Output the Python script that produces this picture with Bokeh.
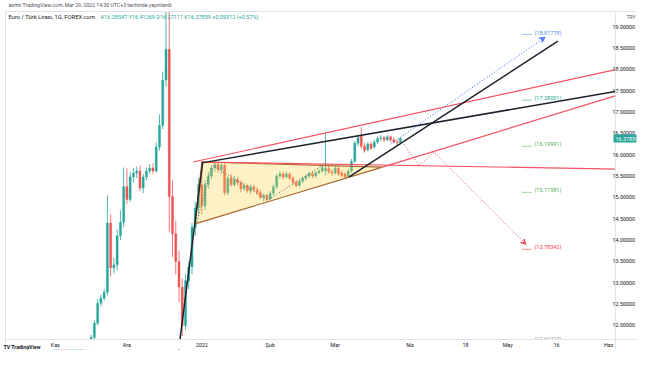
from bokeh.plotting import figure
from bokeh.models import ColumnDataSource, FixedTicker, PrintfTickFormatter, Label, Arrow, VeeHead
from bokeh.core.properties import value
from bokeh.embed import file_html
from bokeh.resources import INLINE

FONT = "Roboto"

# ---- daily EUR/TRY bars, index 0 = 1 Nov 2021 (trading days) ----
opens = [11.17, 11.21, 11.26, 11.22, 11.18, 11.22, 11.29, 11.35, 11.39, 11.48,
         11.46, 11.58, 11.72, 12.05, 12.52, 12.64, 12.78, 14.40, 13.35, 13.42,
         14.10, 14.42, 15.25, 14.95, 15.48, 15.57, 15.62, 15.22, 15.48, 15.62,
         15.69, 15.62, 16.18, 16.69, 17.75, 18.47, 15.02, 14.15, 13.50, 12.90,
         12.00, 13.05, 13.37, 14.30, 14.75, 15.30, 14.80, 15.30, 15.50, 15.69,
         15.78, 15.65, 15.75, 15.11, 15.45, 15.30, 15.42, 15.35, 15.20, 15.28,
         15.15, 15.25, 15.18, 15.12, 15.00, 15.05, 14.96, 15.10, 15.25, 15.50,
         15.55, 15.48, 15.55, 15.45, 15.35, 15.28, 15.38, 15.45, 15.50, 15.56,
         15.50, 15.58, 15.62, 15.62, 15.68, 15.60, 15.57, 15.69, 15.58, 15.55,
         15.48, 15.62, 15.85, 16.27, 16.45, 16.20, 16.12, 16.25, 16.18, 16.30,
         16.38, 16.40, 16.35, 16.42, 16.35, 16.30, 16.28547]
highs = [11.26, 11.30, 11.33, 11.30, 11.26, 11.33, 11.40, 11.46, 11.52, 11.60,
         11.63, 11.78, 12.12, 12.62, 12.72, 12.86, 15.05, 14.60, 13.58, 14.25,
         14.70, 15.70, 15.68, 15.60, 15.70, 15.72, 15.75, 15.55, 15.70, 15.78,
         15.80, 16.28, 16.95, 17.95, 19.60, 20.60, 15.40, 14.45, 13.75, 13.10,
         13.20, 13.50, 14.40, 14.90, 15.45, 15.85, 15.40, 15.60, 15.72, 15.85,
         15.84, 15.80, 15.80, 15.50, 15.55, 15.50, 15.48, 15.40, 15.35, 15.32,
         15.30, 15.30, 15.24, 15.18, 15.10, 15.08, 15.15, 15.30, 15.55, 15.62,
         15.60, 15.60, 15.58, 15.50, 15.40, 15.42, 15.48, 15.54, 15.60, 15.60,
         15.62, 15.66, 15.74, 16.50, 15.74, 15.66, 15.73, 15.72, 15.63, 15.60,
         15.66, 15.90, 16.32, 16.45, 16.64, 16.28, 16.30, 16.30, 16.35, 16.42,
         16.46, 16.44, 16.46, 16.45, 16.40, 16.36, 16.41269]
lows = [11.10, 11.15, 11.18, 11.12, 11.10, 11.16, 11.23, 11.28, 11.33, 11.41,
        11.41, 11.52, 11.68, 12.00, 12.45, 12.58, 12.70, 13.15, 13.22, 13.30,
        14.00, 14.30, 14.85, 14.90, 15.35, 15.45, 15.15, 15.10, 15.40, 15.55,
        15.55, 15.58, 16.10, 16.60, 17.60, 14.20, 13.60, 13.20, 12.55, 11.75,
        11.90, 12.85, 13.20, 14.10, 14.60, 14.60, 14.70, 15.20, 15.42, 15.60,
        15.58, 15.55, 15.05, 15.05, 15.25, 15.25, 15.28, 15.12, 15.15, 15.10,
        15.08, 15.12, 15.05, 14.95, 14.90, 14.88, 14.92, 15.05, 15.20, 15.45,
        15.42, 15.44, 15.40, 15.30, 15.24, 15.25, 15.33, 15.40, 15.45, 15.45,
        15.46, 15.54, 15.58, 15.52, 15.55, 15.50, 15.53, 15.50, 15.47, 15.45,
        15.46, 15.58, 15.80, 16.20, 16.15, 16.05, 16.08, 16.12, 16.15, 16.25,
        16.32, 16.30, 16.32, 16.30, 16.26, 16.22, 16.27111]
closes = [11.21, 11.26, 11.22, 11.18, 11.22, 11.29, 11.35, 11.39, 11.48, 11.46,
          11.58, 11.72, 12.05, 12.52, 12.64, 12.78, 14.40, 13.35, 13.42, 14.10,
          14.42, 15.25, 14.95, 15.48, 15.57, 15.62, 15.22, 15.48, 15.62, 15.69,
          15.62, 16.18, 16.69, 17.75, 18.47, 15.02, 14.15, 13.50, 12.90, 12.00,
          13.05, 13.37, 14.30, 14.75, 15.30, 14.80, 15.30, 15.50, 15.69, 15.78,
          15.65, 15.75, 15.11, 15.45, 15.30, 15.42, 15.35, 15.20, 15.28, 15.15,
          15.25, 15.18, 15.12, 15.00, 15.05, 14.96, 15.10, 15.25, 15.50, 15.55,
          15.48, 15.55, 15.45, 15.35, 15.28, 15.38, 15.45, 15.50, 15.56, 15.50,
          15.58, 15.62, 15.70, 15.68, 15.60, 15.57, 15.69, 15.55, 15.52, 15.48,
          15.62, 15.85, 16.27, 16.40, 16.20, 16.10, 16.25, 16.15, 16.30, 16.38,
          16.40, 16.35, 16.42, 16.35, 16.30, 16.28547, 16.37859]

# ---- axis ticks ----
price_ticks = [12.0, 12.5, 13.0, 13.5, 14.0, 14.5, 15.0, 15.5, 16.0, 16.5,
               17.0, 17.5, 18.0, 18.5, 19.0]
date_tick_pos = [0, 22, 45, 66, 86, 109, 126, 139, 154, 170]
date_tick_labels = ["Kas", "Ara", "2022", "Şub", "Mar", "Nis", "18", "May", "16", "Haz"]

# ---- drawings (bar index, price) ----
steep_black = ([37.5, 45.3], [11.20, 15.83])
upper_black = ([45.0, 172.5], [15.81, 17.49])
lower_black = ([90.3, 154.4], [15.48, 18.66])
red_top = ([42.3, 172.5], [15.83, 18.00])
red_mid = ([100.5, 172.5], [15.71, 17.39])
red_flat = ([45.0, 172.5], [15.83, 15.665])
triangle = ([42.9, 45.0, 100.5], [14.38, 15.83, 15.71])
gray_path = ([43.5, 48.1, 65.2, 83.3], [14.43, 15.76, 14.94, 15.81])
blue_path = ([103.0, 150.4], [16.25, 18.75])
red_path = ([106.6, 111.8, 116.4, 144.6], [16.30, 15.74, 16.06, 13.90])

level_values = [18.81778, 17.28001, 16.19991, 15.11981, 13.78342, 11.62727]
level_colors = ["#5b8ff0", "#22ab94", "#4caf50", "#4caf50", "#f23645", "#9598a1"]
level_x0, level_x1, level_tx = 143.3, 146.4, 147.2

# pane limits (price pane edges and the price-scale separator)
pane_left, pane_right = -15.31, 172.13
pane_top, pane_bottom = 19.357, 11.671

GREEN, RED = "#26a69a", "#ef5350"
BORDER = "#e0e3eb"
n = len(opens)
src = ColumnDataSource(dict(
    x=list(range(n)),
    top=[max(o, c) for o, c in zip(opens, closes)],
    bottom=[min(o, c) for o, c in zip(opens, closes)],
    high=highs, low=lows,
    color=[GREEN if c >= o else RED for o, c in zip(opens, closes)],
))

# whole canvas is the frame: 3.265 px per bar, 42.8 px per lira
X0, X1 = -16.845, 178.56
Y0, Y1 = 11.4369, 19.6145
p = figure(width=638, height=350, x_range=(X0, X1), y_range=(Y0, Y1),
           output_backend="svg", toolbar_location=None, title=None,
           y_axis_location="right", min_border=0,
           min_border_left=0, min_border_right=0, min_border_top=0, min_border_bottom=0,
           background_fill_color="white", border_fill_color="white")
p.outline_line_color = None
p.xgrid.visible = False
p.ygrid.visible = False

ya = p.yaxis[0]
ya.ticker = FixedTicker(ticks=price_ticks)
ya.formatter = PrintfTickFormatter(format="%.5f")
xa = p.xaxis[0]
xa.ticker = FixedTicker(ticks=date_tick_pos)
xa.major_label_overrides = {pos: lab for pos, lab in zip(date_tick_pos, date_tick_labels)}
for ax in (xa, ya):
    ax.major_label_text_font_size = "5.4px"
    ax.major_label_text_font = FONT
    ax.major_label_text_color = "#131722"
    ax.major_tick_line_color = None
    ax.minor_tick_line_color = None
    ax.major_tick_out = 0
    ax.major_tick_in = 0
    ax.minor_tick_out = 0
    ax.minor_tick_in = 0
    ax.axis_line_color = None
ya.major_label_standoff = -24
xa.major_label_standoff = -8

# candles
p.segment(x0="x", y0="low", x1="x", y1="high", line_color="color", line_width=0.8, source=src)
p.vbar(x="x", width=0.62, top="top", bottom="bottom", fill_color="color",
       line_color="color", line_width=0.4, source=src)

# triangle pattern
p.patch(triangle[0], triangle[1], fill_color="#f9d54a", fill_alpha=0.32,
        line_color="#a8652c", line_width=1.1)
p.line(gray_path[0], gray_path[1], line_color="#50535e", line_width=0.9, line_dash="1 2")

# trend lines
for xs, ys in (red_top, red_mid, red_flat):
    p.line(xs, ys, line_color="#f7525f", line_width=1.2)
for xs, ys in (steep_black, upper_black, lower_black):
    p.line(xs, ys, line_color="#1e222d", line_width=1.5)

# projection paths
p.line(blue_path[0], blue_path[1], line_color="#2962ff", line_width=1, line_dash="1 2")
p.add_layout(Arrow(end=VeeHead(size=5, line_color="#2962ff", line_width=1, fill_color=None),
                   x_start=blue_path[0][0], y_start=blue_path[1][0],
                   x_end=blue_path[0][1], y_end=blue_path[1][1], line_alpha=0))
p.line(red_path[0], red_path[1], line_color="#f23645", line_width=1, line_dash="1 2")
p.add_layout(Arrow(end=VeeHead(size=5, line_color="#f23645", line_width=1, fill_color=None),
                   x_start=red_path[0][2], y_start=red_path[1][2],
                   x_end=red_path[0][3], y_end=red_path[1][3], line_alpha=0))

# level labels
lvl_src = ColumnDataSource(dict(
    x0=[level_x0] * len(level_values), x1=[level_x1] * len(level_values),
    tx=[level_tx] * len(level_values), y=level_values,
    color=level_colors, text=["(%.5f)" % v for v in level_values]))
p.segment(x0="x0", y0="y", x1="x1", y1="y", line_color="color", line_alpha=0.7,
          line_width=0.8, source=lvl_src)
p.text(x="tx", y="y", text="text", text_color="color", text_font=value(FONT),
       text_font_size="5.5px", text_baseline="bottom", y_offset=1, source=lvl_src)

# mask everything outside the price pane (header strip, price scale, time scale)
p.quad(left=[X0, pane_right, X0], right=[X1, X1, X1],
       bottom=[pane_top, Y0, Y0], top=[Y1, Y1, pane_bottom],
       fill_color="white", line_color=None)
# pane borders
p.segment(x0=[pane_left, pane_left, pane_right, pane_left],
          y0=[pane_top, pane_bottom, pane_top, pane_top],
          x1=[X1, X1, pane_right, pane_left],
          y1=[pane_top, pane_bottom, Y0, Y0],
          line_color=BORDER, line_width=1)

# header / legend / footer (screen units: x from left, y from bottom of canvas)
def lab(x, y, text, color, size="5.5px", **kw):
    p.add_layout(Label(x=x, y=y, x_units="screen", y_units="screen", text=text,
                       text_color=color, text_font=FONT, text_font_size=size,
                       text_baseline="middle", **kw))

lab(8, 345, "asmn TradingView.com, Mar 29, 2022 14:30 UTC+3 tarihinde yayınlandı", "#50535e", "5.2px")
lab(8, 333, "Euro / Türk Lirası, 1G, FOREX.com", "#131722", "5.8px")
lab(100, 333, "A16.28547 Y16.41269 D16.27111 K16.37859 +0.09312 (+0.57%)", GREEN)
lab(626, 333, "TRY", "#50535e", "5px")
lab(3, 3, "TV TradingView", "#131722", "5.2px", text_font_style="bold")

p.add_layout(Label(x=613, y=16.37859, x_units="screen", y_units="data", text="16.37859",
                   text_color="white", text_font=FONT, text_font_size="5.4px",
                   text_baseline="middle", background_fill_color=GREEN, padding=2))

open("out.html", "w").write(file_html(p, INLINE))
